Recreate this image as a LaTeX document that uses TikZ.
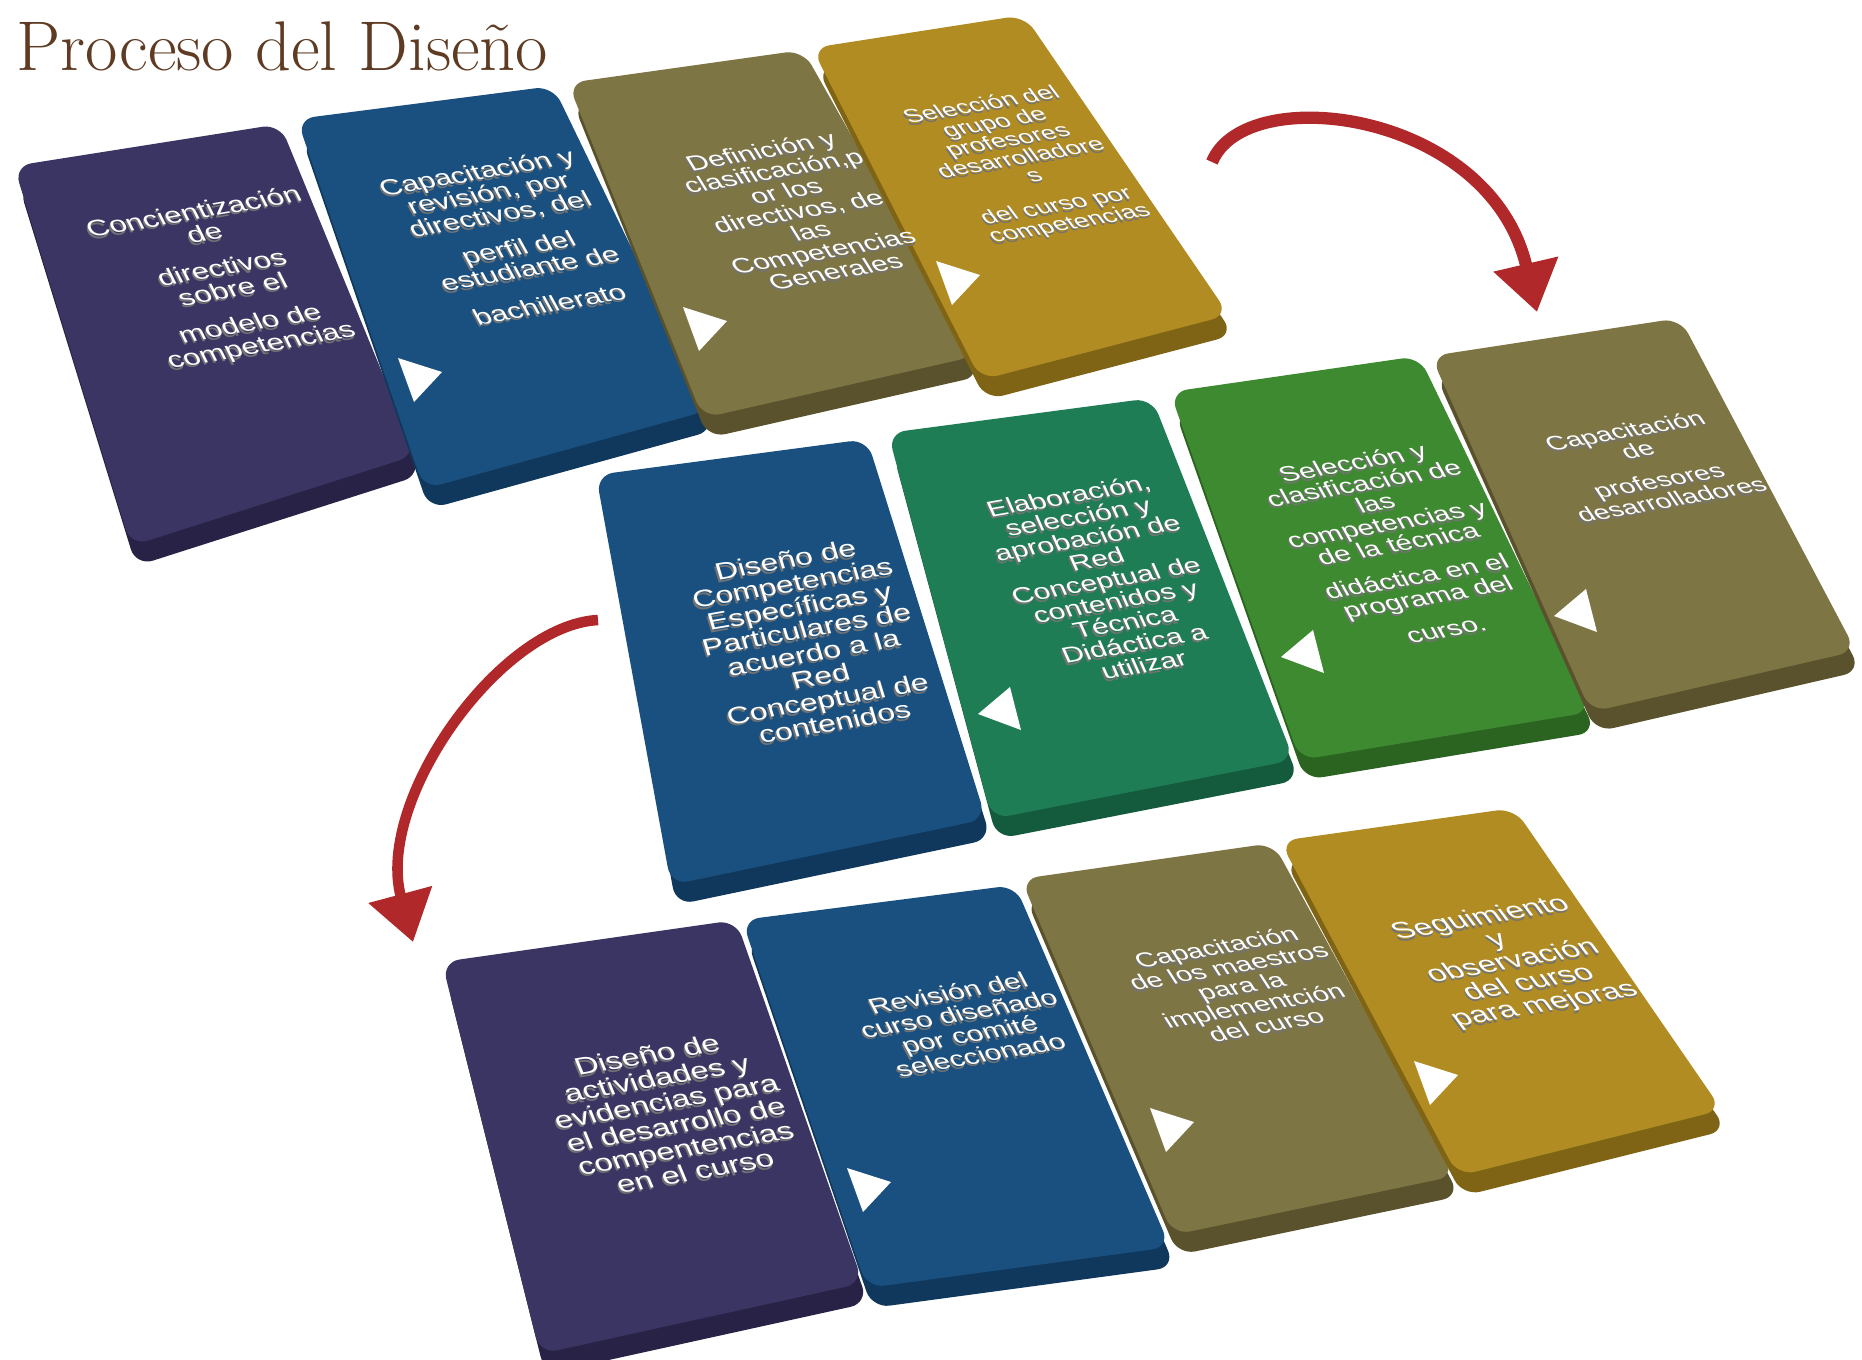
\documentclass[tikz,border=0pt]{standalone}
\usepackage{fontspec}
\setsansfont{Liberation Sans}
\usetikzlibrary{arrows.meta}

\definecolor{morado}{RGB}{59,53,99}
\definecolor{moradoosc}{RGB}{40,35,70}
\definecolor{azul}{RGB}{25,80,127}
\definecolor{azulosc}{RGB}{16,56,92}
\definecolor{oliva}{RGB}{126,117,68}
\definecolor{olivaosc}{RGB}{90,82,44}
\definecolor{oro}{RGB}{177,140,34}
\definecolor{oroosc}{RGB}{128,100,22}
\definecolor{verdeazul}{RGB}{31,125,85}
\definecolor{verdeazulosc}{RGB}{20,90,60}
\definecolor{verde}{RGB}{61,138,48}
\definecolor{verdeosc}{RGB}{42,100,32}
\definecolor{rojo}{RGB}{176,40,42}
\definecolor{cafe}{RGB}{94,59,34}

% slab: colour, dark colour, four corners of the top face
\newcommand{\caja}[6]{%
  \fill[#2, rounded corners=5pt, shift={(5,20)}] #3 -- #4 -- #5 -- #6 -- cycle;
  \fill[#1, rounded corners=5pt] #3 -- #4 -- #5 -- #6 -- cycle;}

% label with its grey shadow: name, position, font size, slant, text
\newcommand{\paso}[5]{%
  \node[paso={#3}{#4}, text=black!55, shift={(-2,3)}] (#1s) at #2 {#5};
  \node[paso={#3}{#4}] (#1) at #2 {#5};}

\begin{document}
\begin{tikzpicture}[x=0.01cm, y=-0.01cm,
    paso/.style 2 args={text=white, align=center, inner sep=0pt,
      font=\sffamily\fontsize{#1}{#1pt+0.6pt}\selectfont, rotate=10, xslant=-#2, yscale=0.76},
    flecha/.style={draw=rojo, line width=3.5pt, -{Triangle[length=14pt, width=18pt]}},
    marca/.style={fill=white}]
    \useasboundingbox (0,0) rectangle (1862,1359);

    % Title
    \node[anchor=west, text=cafe, font=\fontsize{20}{24}\selectfont] (titulo) at (4,46) {Proceso del Diseño};

    % Row 1
    \caja{morado}{moradoosc}{(14,166)}{(280,124)}{(416,455)}{(131,546)}
    \caja{azul}{azulosc}{(297,119)}{(553,86)}{(710,410)}{(424,489)}
    \caja{oliva}{olivaosc}{(568,83)}{(803,50)}{(976,356)}{(703,418)}
    \caja{oro}{oroosc}{(812,48)}{(1024,15)}{(1229,315)}{(981,380)}
    \fill[marca, shift={(418,378)}] (-20,-20) -- (24,-6) -- (-4,24) -- cycle;
    \fill[marca, shift={(703,327)}] (-20,-20) -- (24,-6) -- (-4,24) -- cycle;
    \fill[marca, shift={(956,281)}] (-20,-20) -- (24,-6) -- (-4,24) -- cycle;
    \paso{p1}{(228,280)}{8.7}{0.3}{Concientización\\de\\[5pt]directivos\\sobre el\\[5pt]modelo de\\competencias}
    \paso{p2}{(513,238)}{8.5}{0.34}{Capacitación y\\revisión, por\\directivos, del\\[5pt]perfil del\\estudiante de\\[6pt]bachillerato}
    \paso{p3}{(798,211)}{8.2}{0.4}{Definición y\\clasificación,p\\or los\\directivos, de\\las\\Competencias\\Generales}
    \paso{p4}{(1026,165)}{7.4}{0.5}{Selección del\\grupo de\\profesores\\desarrolladore\\s\\[5pt]del curso por\\competencias}

    % Row 2
    \caja{azul}{azulosc}{(596,475)}{(867,439)}{(986,819)}{(671,885)}
    \caja{verdeazul}{verdeazulosc}{(888,433)}{(1152,398)}{(1294,760)}{(992,819)}
    \caja{verde}{verdeosc}{(1170,392)}{(1419,356)}{(1591,712)}{(1300,760)}
    \caja{oliva}{olivaosc}{(1431,356)}{(1680,318)}{(1856,651)}{(1591,712)}
    \fill[marca, shift={(1003,710)}] (7,-23) -- (18,20) -- (-25,4) -- cycle;
    \fill[marca, shift={(1306,653)}] (7,-23) -- (18,20) -- (-25,4) -- cycle;
    \fill[marca, shift={(1579,612)}] (7,-23) -- (18,20) -- (-25,4) -- cycle;
    \paso{p5}{(810,641)}{9}{0.12}{Diseño de\\Competencias\\Específicas y\\Particulares de\\acuerdo a la\\Red\\Conceptual de\\contenidos}
    \paso{p6}{(1106,580)}{8.4}{0.25}{Elaboración,\\selección y\\aprobación de\\Red\\Conceptual de\\contenidos y\\Técnica\\Didáctica a\\utilizar}
    \paso{p7}{(1399,546)}{8.2}{0.35}{Selección y\\clasificación de\\las\\competencias y\\de la técnica\\[5pt]didáctica en el\\programa del\\[5pt]curso.}
    \paso{p8}{(1648,465)}{7.8}{0.45}{Capacitación\\de\\[5pt]profesores\\desarrolladores}

    % Row 3
    \caja{morado}{moradoosc}{(442,962)}{(736,920)}{(863,1283)}{(540,1354)}
    \caja{azul}{azulosc}{(742,920)}{(1015,885)}{(1170,1247)}{(867,1288)}
    \caja{oliva}{olivaosc}{(1021,879)}{(1273,843)}{(1455,1176)}{(1173,1235)}
    \caja{oro}{oroosc}{(1280,841)}{(1514,808)}{(1722,1110)}{(1458,1176)}
    \fill[marca, shift={(867,1188)}] (-20,-20) -- (24,-6) -- (-4,24) -- cycle;
    \fill[marca, shift={(1170,1128)}] (-20,-20) -- (24,-6) -- (-4,24) -- cycle;
    \fill[marca, shift={(1434,1081)}] (-20,-20) -- (24,-6) -- (-4,24) -- cycle;
    \paso{p9}{(671,1113)}{9.2}{0.22}{Diseño de\\actividades y\\evidencias para\\el desarrollo de\\compentencias\\en el curso}
    \paso{p10}{(964,1024)}{8.3}{0.32}{Revisión del\\curso diseñado\\por comité\\seleccionado}
    \paso{p11}{(1241,986)}{8}{0.42}{Capacitación\\de los maestros\\para la\\implementción\\del curso}
    \paso{p12}{(1513,962)}{9}{0.5}{Seguimiento\\y\\observación\\del curso\\para mejoras}

    % Red arrows between rows
    \coordinate (r1a) at (1212,162);
    \coordinate (r1b) at (1537,312);
    \coordinate (r2a) at (598,620);
    \coordinate (r2b) at (413,942);
    \draw[flecha] (r1a) .. controls (1245,80) and (1490,110) .. (r1b);
    \draw[flecha, line width=3pt] (r2a) .. controls (500,625) and (375,800) .. (r2b);
\end{tikzpicture}
\end{document}
